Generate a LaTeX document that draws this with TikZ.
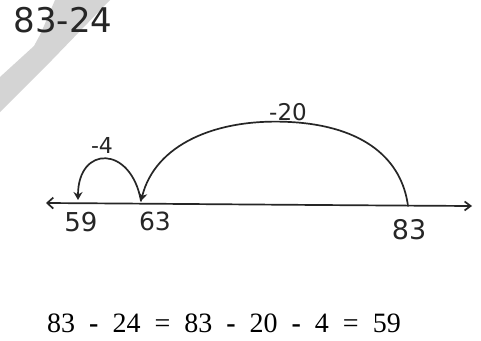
\documentclass[tikz,border=0pt]{standalone}
\usepackage{fontspec}
\setmainfont{Liberation Serif}
\newfontfamily\handfont{DejaVu Sans}
\usetikzlibrary{arrows.meta}
\definecolor{ink}{HTML}{262626}
\definecolor{wmark}{HTML}{D4D4D4}
\tikzset{
  pen/.style={draw=ink, line width=1.7pt, line cap=round, line join=round},
  hand/.style={font=\handfont, text=ink, inner sep=0pt},
  tipmark/.style={-{Stealth[length=8pt,width=9pt]}},
}
\begin{document}
\begin{tikzpicture}[x=1pt,y=-1pt]
\useasboundingbox (0,0) rectangle (481,340);
\fill[white] (0,0) rectangle (481,340);
% watermark
\fill[wmark] (55,0) -- (110,0) -- (52,60) -- (0,112) -- (0,77) -- (34,46) -- (41,33) -- cycle;
% title
\node[hand, font=\handfont\fontsize{34}{34}\selectfont] (title) at (63,20) {83-24};
% number line points
\coordinate (L) at (46,203);
\coordinate (R) at (472,206);
\coordinate (n59) at (78,200);
\coordinate (n63) at (141,201);
\coordinate (n83) at (408,206);
\draw[pen, {Straight Barb[length=6pt,width=11pt]}-{Straight Barb[length=6pt,width=9pt]}] (L) .. controls (200,204) and (300,205) .. (R);
% jumps
\draw[pen, tipmark] (n83) .. controls (402,160) and (365,126) .. (290,122) .. controls (215,118) and (155,145) .. (n63);
\draw[pen, tipmark] (n63) .. controls (131,145) and (78,145) .. (n59);
% labels
\node[hand, font=\handfont\fontsize{23}{23}\selectfont] (m20) at (288,112) {-20};
\node[hand, font=\handfont\fontsize{22}{22}\selectfont] (m4) at (102,145) {-4};
\node[hand, font=\handfont\fontsize{26}{26}\selectfont] (l59) at (81,222) {59};
\node[hand, font=\handfont\fontsize{25}{25}\selectfont] (l63) at (155,221) {63};
\node[hand, font=\handfont\fontsize{27}{27}\selectfont] (l83) at (409,230) {83};
% equation
\node[inner sep=0pt, anchor=base, font=\fontsize{28}{28}\selectfont] (eq) at (224,332)
  {83\hspace{14pt}\textbf{-}\hspace{14pt}24\hspace{14pt}=\hspace{14pt}83\hspace{14pt}\textbf{-}\hspace{14pt}20\hspace{14pt}\textbf{-}\hspace{14pt}4\hspace{14pt}=\hspace{14pt}59};
\end{tikzpicture}
\end{document}
